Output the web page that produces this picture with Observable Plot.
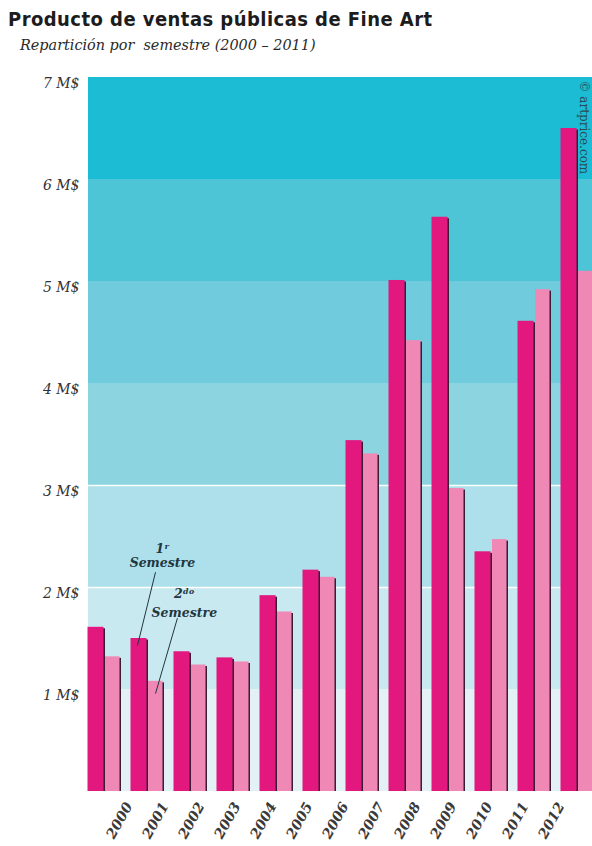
<!DOCTYPE html>
<html>
<head>
<meta charset="utf-8">
<script src="https://cdn.jsdelivr.net/npm/d3@7"></script>
<script src="https://cdn.jsdelivr.net/npm/@observablehq/plot@0.6"></script>
<style>
  html, body { margin: 0; padding: 0; background: #fff; }
  #chart { width: 592px; }
  .head { position: relative; height: 62px; }
  .title {
    position: absolute; left: 8px; top: 7px;
    font-family: "DejaVu Sans Condensed", "DejaVu Sans", sans-serif;
    font-stretch: condensed;
    font-weight: bold; font-size: 20px; letter-spacing: 0.45px;
    color: #1c1c1c; white-space: nowrap;
  }
  .subtitle {
    position: absolute; left: 20px; top: 37px;
    font-family: "DejaVu Serif", serif; font-style: italic;
    font-size: 14.4px; color: #2a2a2a; white-space: nowrap;
  }
  svg { display: block; }
</style>
</head>
<body>
<div id="chart">
  <div class="head">
    <div class="title">Producto de ventas públicas de Fine Art</div>
    <div class="subtitle">Repartición por&nbsp; semestre (2000 – 2011)</div>
  </div>
</div>
<script>
// Public auction turnover, split by half-year (millions of dollars)
const years = [2000, 2001, 2002, 2003, 2004, 2005, 2006, 2007, 2008, 2009, 2010, 2011];
const firstHalf = [1.61, 1.50, 1.37, 1.31, 1.92, 2.17, 3.44, 5.01, 5.63, 2.35, 4.61, 6.50];
const secondHalf = [1.32, 1.08, 1.24, 1.27, 1.76, 2.10, 3.31, 4.42, 2.97, 2.47, 4.92, 5.10];

// Labels printed under the bars
const yearLabels = ["2000", "2001", "2002", "2003", "2004", "2005", "2006",
                    "2007", "2008", "2009", "2010", "2011", "2012"];

// Y ticks and the shaded background bands (one per million)
const yTicks = [1, 2, 3, 4, 5, 6, 7];
const bandLow = [0, 1, 2, 3, 4, 5, 6];
const bandHigh = [1, 2, 3, 4, 5, 6, 7];
const bandColors = ["#e3f1f7", "#c8e9f0", "#ade0ea", "#8dd4e1", "#70ccdc", "#4ec4d7", "#1cbcd4"];
const dividers = [2, 3];

const rows = years.map((year, i) => ({year, first: firstHalf[i], second: secondHalf[i]}));
const bands = bandLow.map((lo, i) => ({lo, hi: bandHigh[i], color: bandColors[i]}));

const serif = "DejaVu Serif, serif";
const dark = "#e2187f", light = "#f088b6", shadow = "#3c1b35";

const main = Plot.plot({
  width: 592,
  height: 729,
  marginTop: 15,
  marginBottom: 0,
  marginLeft: 88,
  marginRight: 0,
  x: {type: "linear", domain: [2000, 2012], range: [87.5, 603.5], axis: null},
  y: {domain: [0, 7], axis: null},
  color: {type: "identity"},
  marks: [
    Plot.rect(bands, {y1: "lo", y2: "hi", fill: "color"}),
    Plot.ruleY(dividers, {stroke: "#ffffff", strokeWidth: 1.5}),
    // thin dark edge on the right of every bar
    Plot.rectY(rows, {x: "year", interval: 1, y: "first", insetRight: 27, dx: 1.5, dy: 1.5, fill: shadow}),
    Plot.rectY(rows, {x: "year", interval: 1, y: "second", insetLeft: 17.5, insetRight: 11, dx: 1.5, dy: 1.5, fill: shadow}),
    Plot.rectY(rows, {x: "year", interval: 1, y: "first", insetRight: 27, fill: dark}),
    Plot.rectY(rows, {x: "year", interval: 1, y: "second", insetLeft: 17.5, insetRight: 11, fill: light}),
    // leader lines for the semester notes (pointing into the 2001 bars)
    Plot.link([rows[1]], {
      x1: d => d.year + 0.57, y1: 2.15, x2: d => d.year + 0.15, y2: d => d.first - 0.07,
      stroke: "#23353d", strokeWidth: 1
    }),
    Plot.link([rows[1]], {
      x1: d => d.year + 1.08, y1: 1.70, x2: d => d.year + 0.57, y2: d => d.second - 0.12,
      stroke: "#23353d", strokeWidth: 1
    }),
    Plot.text(["1ʳ", "Semestre"], {
      x: 2001.73, y: [2.38, 2.24], text: d => d,
      fontFamily: serif, fontStyle: "italic", fontWeight: "bold", fontSize: 12.5, fill: "#23353d"
    }),
    Plot.text(["2ᵈᵒ", "Semestre"], {
      x: 2002.24, y: [1.94, 1.75], text: d => d,
      fontFamily: serif, fontStyle: "italic", fontWeight: "bold", fontSize: 12.5, fill: "#23353d"
    }),
    Plot.text(["© artprice.com"], {
      frameAnchor: "top-right", rotate: 90, textAnchor: "start", lineAnchor: "middle",
      dx: -9, dy: 3, fontFamily: serif, fontSize: 12, fill: "#2b4a55"
    }),
    Plot.axisY(yTicks, {
      tickSize: 0, tickPadding: 9, dy: 6, tickFormat: d => `${d} M$`,
      fontFamily: serif, fontStyle: "italic", fontSize: 14, fill: "#333"
    })
  ]
});

const labels = Plot.plot({
  width: 592,
  height: 55,
  marginTop: 0,
  marginBottom: 0,
  marginLeft: 0,
  marginRight: 0,
  x: {type: "point", domain: yearLabels, range: [97, 573], axis: null},
  marks: [
    Plot.text(yearLabels, {
      x: d => d, frameAnchor: "middle", rotate: -61, dy: 1.5,
      fontFamily: serif, fontStyle: "italic", fontWeight: "bold", fontSize: 14, fill: "#3a3a3a"
    })
  ]
});

const chart = document.getElementById("chart");
chart.appendChild(main);
chart.appendChild(labels);
</script>
</body>
</html>
